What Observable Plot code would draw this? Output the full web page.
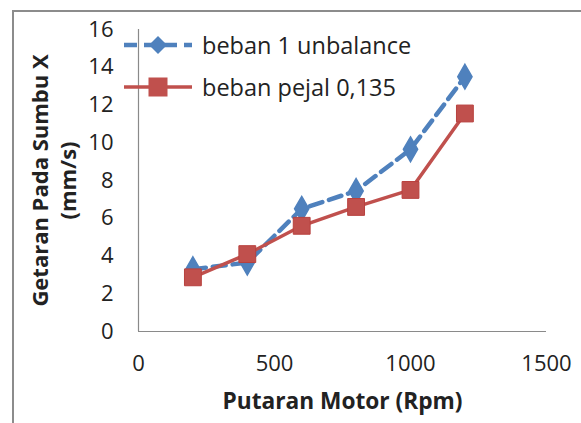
<!DOCTYPE html>
<html><head><meta charset="utf-8">
<script src="https://cdn.jsdelivr.net/npm/d3@7"></script>
<script src="https://cdn.jsdelivr.net/npm/@observablehq/plot@0.6"></script>
<style>
html,body{margin:0;padding:0;background:#fff;overflow:hidden;width:581px;height:423px;}
#wrap{position:relative;width:581px;height:423px;font-family:"Open Sans",sans-serif;}
#border{position:absolute;left:12px;top:10px;width:620px;height:460px;border:2px solid #8c8c8c;box-sizing:border-box;}
#legend{position:absolute;left:122px;top:24px;font-size:23.5px;color:#222;}
.li{display:flex;align-items:center;height:42px;}
.li svg{margin-right:8px;}
</style></head>
<body><div id="wrap"><div id="border"></div><div id="chart"></div><div id="legend"></div></div>
<script>
const rpm = [200, 400, 600, 800, 1000, 1200];
const unbalance = [3.3, 3.65, 6.5, 7.45, 9.65, 13.5];
const pejal = [2.87, 4.1, 5.6, 6.6, 7.5, 11.55];
const seriesNames = ["beban 1 unbalance", "beban pejal 0,135"];
const xTicks = [0, 500, 1000, 1500];
const yTicks = [0, 2, 4, 6, 8, 10, 12, 14, 16];

const blue = "#4F81BD", red = "#C0504D";
const dataA = rpm.map((x, i) => ({x, y: unbalance[i]}));
const dataB = rpm.map((x, i) => ({x, y: pejal[i]}));

const chart = Plot.plot({
  width: 581, height: 423,
  marginLeft: 138, marginRight: 35, marginTop: 29, marginBottom: 92,
  style: {fontFamily: "Open Sans, sans-serif", fontSize: "22px", color: "#222", background: "transparent", overflow: "visible"},
  x: {domain: [0, 1500], label: null},
  y: {domain: [0, 16], label: null},
  marks: [
    Plot.ruleX([0], {stroke: "#8a8a8a", strokeWidth: 1.2}),
    Plot.ruleY([0], {stroke: "#8a8a8a", strokeWidth: 1.2}),
    Plot.line(dataA, {x: "x", y: "y", stroke: blue, strokeWidth: 4.5, strokeDasharray: "13,7"}),
    Plot.dot(dataA, {x: "x", y: "y", symbol: "diamond", r: 7.5, fill: blue, stroke: blue}),
    Plot.line(dataB, {x: "x", y: "y", stroke: red, strokeWidth: 3.5}),
    Plot.dot(dataB, {x: "x", y: "y", symbol: "square", r: 9.5, fill: red, stroke: "#b8413e", strokeWidth: 1}),
    Plot.axisX({ticks: xTicks, tickSize: 0, tickPadding: 24, fontSize: 22, tickFormat: d => String(d), label: null}),
    Plot.axisY({ticks: yTicks, tickSize: 0, tickPadding: 25, fontSize: 22, tickFormat: d => String(d), label: null}),
    Plot.text(["Getaran Pada Sumbu X"], {frameAnchor: "left", textAnchor: "middle", dx: -98, rotate: -90, fontWeight: "bold", fontSize: 22, fill: "#222"}),
    Plot.text(["(mm/s)"], {frameAnchor: "left", textAnchor: "middle", dx: -70, rotate: -90, fontWeight: "bold", fontSize: 22, fill: "#222"}),
    Plot.text(["Putaran Motor (Rpm)"], {frameAnchor: "bottom", textAnchor: "middle", dy: 77, fontWeight: "bold", fontSize: 22.7, fill: "#222"})
  ]
});
document.getElementById("chart").appendChild(chart);

const leg = document.getElementById("legend");
const ns = "http://www.w3.org/2000/svg";
seriesNames.forEach((name, i) => {
  const row = document.createElement("div"); row.className = "li";
  const svg = document.createElementNS(ns, "svg");
  svg.setAttribute("width", 72); svg.setAttribute("height", 24);
  const line = document.createElementNS(ns, "line");
  line.setAttribute("x1", 2); line.setAttribute("x2", 70); line.setAttribute("y1", 12); line.setAttribute("y2", 12);
  line.setAttribute("stroke", i === 0 ? blue : red);
  line.setAttribute("stroke-width", i === 0 ? 4.5 : 3.5);
  if (i === 0) line.setAttribute("stroke-dasharray", "13,7");
  svg.appendChild(line);
  if (i === 0) {
    const p = document.createElementNS(ns, "path");
    p.setAttribute("d", "M36,3 L45,12 L36,21 L27,12 Z"); p.setAttribute("fill", blue);
    svg.appendChild(p);
  } else {
    const r = document.createElementNS(ns, "rect");
    r.setAttribute("x", 26.5); r.setAttribute("y", 2.5); r.setAttribute("width", 19); r.setAttribute("height", 19);
    r.setAttribute("fill", red); svg.appendChild(r);
  }
  row.appendChild(svg);
  const t = document.createElement("span"); t.textContent = name; row.appendChild(t);
  leg.appendChild(row);
});
</script></body></html>
